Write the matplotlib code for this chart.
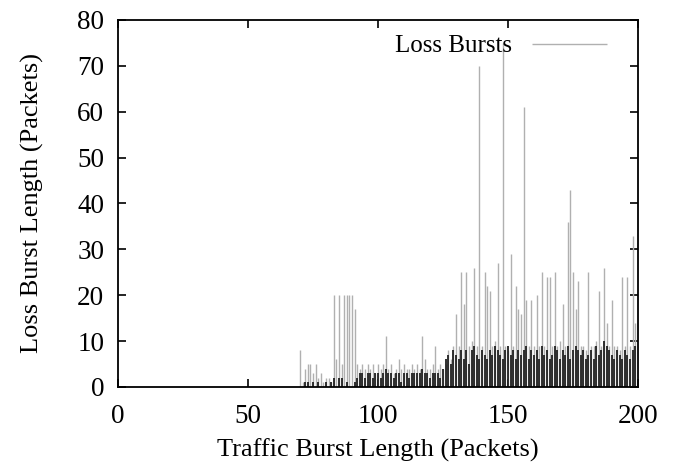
import numpy as np
import matplotlib
matplotlib.use("Agg")
import matplotlib.pyplot as plt

plt.rcParams['font.family'] = ['Liberation Serif', 'DejaVu Serif']

# traffic burst lengths seen (packets)
burst_len = list(range(70, 200))

# longest loss burst seen for each traffic burst length
peak_loss = [8, 1, 4, 5, 5, 3, 5, 2, 3, 1,
             2, 2, 1, 20, 6, 20, 5, 20, 20, 20,
             20, 17, 5, 4, 5, 4, 5, 4, 5, 3,
             5, 4, 5, 11, 4, 5, 3, 4, 6, 4,
             5, 4, 4, 5, 4, 5, 4, 11, 6, 4,
             4, 5, 9, 4, 5, 4, 5, 8, 6, 9,
             16, 9, 25, 18, 25, 9, 10, 26, 9, 70,
             9, 25, 22, 21, 9, 10, 27, 9, 75, 9,
             8, 29, 9, 22, 17, 16, 61, 19, 9, 19,
             9, 20, 9, 25, 9, 24, 24, 9, 25, 9,
             10, 18, 9, 36, 43, 25, 17, 23, 9, 9,
             8, 25, 9, 9, 10, 21, 9, 26, 14, 9,
             19, 9, 9, 8, 24, 9, 24, 9, 33, 14]

# most frequent loss burst length for each traffic burst length
common_loss = [0, 0, 1, 1, 0, 1, 0, 1, 0, 0,
               1, 0, 1, 2, 0, 2, 2, 0, 1, 0,
               0, 1, 2, 3, 3, 2, 3, 3, 2, 3,
               3, 2, 3, 4, 3, 3, 2, 3, 3, 1,
               3, 3, 2, 3, 3, 3, 3, 4, 3, 3,
               2, 3, 3, 3, 2, 4, 6, 7, 5, 8,
               7, 6, 8, 6, 8, 5, 8, 9, 7, 6,
               8, 7, 6, 8, 7, 9, 8, 7, 6, 8,
               9, 7, 8, 6, 8, 7, 8, 9, 6, 8,
               7, 8, 6, 9, 7, 8, 6, 7, 9, 8,
               6, 8, 7, 9, 6, 8, 9, 8, 7, 8,
               6, 7, 8, 6, 9, 7, 8, 10, 9, 8,
               7, 6, 8, 7, 6, 8, 7, 6, 8, 9]

fig, ax = plt.subplots(figsize=(6.75, 4.65), dpi=100)
fig.subplots_adjust(left=0.175, right=0.945, bottom=0.168, top=0.957)

ax.vlines(burst_len, 0, peak_loss, colors='#b0b0b0', linewidth=1.0,
          label='Loss Bursts')
ax.vlines(burst_len, 0, common_loss, colors='#202020', linewidth=1.3)

ax.set_xlim(0, 200)
ax.set_ylim(0, 80)
ax.set_xticks([0, 50, 100, 150, 200])
ax.set_yticks(range(0, 81, 10))
ax.tick_params(direction='in', top=True, right=True, labelsize=19.5,
               length=6, width=1.2)
ax.tick_params(axis='x', pad=12)
ax.tick_params(axis='y', pad=10)
for s in ax.spines.values():
    s.set_linewidth(1.3)

ax.set_xlabel('Traffic Burst Length (Packets)', fontsize=19, labelpad=7)
ax.set_ylabel('Loss Burst Length (Packets)', fontsize=19, labelpad=24)

ax.legend(loc='upper right', frameon=False, markerfirst=False,
          fontsize=18, handlelength=3.0, borderaxespad=0.2,
          bbox_to_anchor=(0.97, 1.0))

fig.savefig('out.png')
